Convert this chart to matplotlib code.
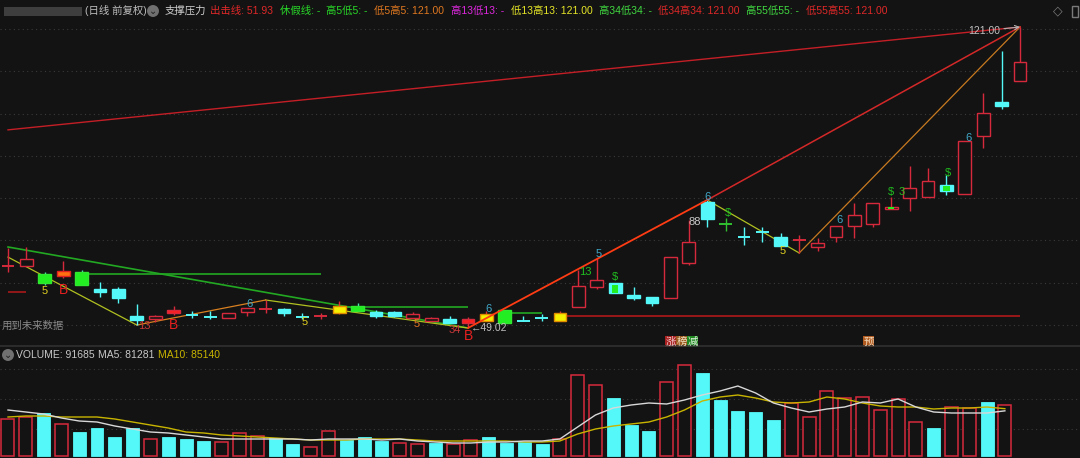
import numpy as np
import matplotlib
matplotlib.use('Agg')
import matplotlib.pyplot as plt
from matplotlib.patches import Rectangle

plt.rcParams['font.family'] = ['Liberation Sans', 'Noto Sans CJK SC', 'DejaVu Sans']

# ---- data ----
# daily candles: open, high, low, close and a colour code
opens = [63.84, 63.84, 61.93, 61.45, 62.41, 58.34, 58.34, 51.89, 51.17, 52.61,
         52.10, 51.65, 51.41, 52.85, 53.56, 53.56, 51.65, 51.85, 52.61, 54.28,
         52.85, 52.85, 51.41, 50.69, 51.17, 50.21, 50.69, 53.32, 50.69, 51.41,
         50.69, 54.04, 58.82, 59.78, 56.91, 56.43, 56.19, 64.56, 79.15, 73.89,
         70.78, 71.97, 70.78, 70.02, 68.39, 70.78, 73.41, 73.89, 77.48, 80.11,
         80.35, 83.22, 81.06, 94.93, 103.06, 108.09]
highs = [68.15, 68.39, 62.41, 65.04, 62.89, 60.02, 58.82, 54.76, 52.13, 54.28,
         53.08, 53.08, 52.61, 53.80, 55.71, 53.80, 52.61, 52.61, 55.47, 54.99,
         53.32, 53.08, 52.85, 51.65, 51.89, 51.65, 53.08, 53.32, 51.89, 52.37,
         53.08, 62.89, 65.76, 59.78, 58.82, 56.43, 65.99, 74.85, 79.63, 75.32,
         73.17, 73.17, 71.73, 71.26, 70.54, 73.41, 78.91, 78.91, 80.35, 87.76,
         87.28, 85.61, 93.74, 105.22, 115.26, 121.00]
lows = [62.41, 63.84, 59.30, 60.97, 59.30, 56.43, 54.99, 49.73, 50.45, 52.13,
        51.41, 51.17, 51.41, 51.89, 52.61, 51.89, 51.17, 51.17, 52.37, 53.08,
        51.41, 51.65, 51.41, 50.69, 50.21, 49.02, 50.69, 50.21, 50.65, 50.69,
        50.69, 54.04, 58.34, 57.39, 55.71, 54.28, 56.19, 64.08, 73.17, 72.20,
        68.87, 69.58, 68.63, 66.96, 67.43, 69.58, 70.54, 73.17, 77.48, 77.00,
        80.35, 80.82, 81.06, 92.06, 101.39, 108.09]
closes = [63.90, 65.52, 59.78, 62.65, 59.30, 57.63, 56.19, 50.93, 51.89, 53.32,
          52.00, 51.60, 52.61, 53.80, 53.62, 52.61, 51.60, 51.89, 54.28, 53.08,
          51.89, 51.89, 52.37, 51.41, 50.21, 51.17, 52.37, 50.21, 50.65, 51.35,
          52.61, 59.06, 60.50, 57.39, 56.19, 54.99, 65.99, 69.58, 75.08, 73.85,
          70.74, 71.93, 68.63, 70.06, 69.35, 73.41, 76.04, 78.91, 77.96, 82.50,
          84.17, 81.78, 93.74, 100.43, 102.11, 112.63]
kinds = ['u', 'u', 'g', 'o', 'g', 'd', 'd', 'd', 'u', 'r',
         'd', 'd', 'u', 'u', 'u', 'd', 'd', 'u', 'y', 'g',
         'd', 'd', 'u', 'u', 'd', 'r', 'y', 'g', 'd', 'd',
         'y', 'u', 'u', 'dg', 'd', 'd', 'u', 'u', 'd', 'x',
         'd', 'd', 'd', 'u', 'u', 'u', 'u', 'u', 'ug', 'u',
         'u', 'dg', 'u', 'u', 'd', 'u']

# indicator lines (bar index, price)
top_line = ([0, 55], [96.4, 121.0])
rise_1 = ([25, 38], [49.02, 79.63])
rise_2 = ([38, 55], [79.63, 121.0])
green_fall = ([0, 25], [68.39, 49.02])
zig_a = ([0, 7], [65.97, 49.73])
zig_b = ([7, 14], [49.73, 55.71])
zig_c = ([14, 25], [55.71, 49.02])
zig_d = ([38, 43], [79.63, 66.96])
zig_e = ([43, 55], [66.96, 121.0])
green_flat = [(4, 17, 61.93), (18, 25, 54.04), (27, 29, 52.61)]
attack_line = (30, 55, 51.93)
red_dash = (0, 1, 57.63)

# marker labels: bar index, price, text, colour
labels = [
    (2.0, 57.87, '5', '#e0d020'), (3.0, 58.1, 'B', '#e82020'),
    (7.4, 49.5, '13', '#c83838'), (9.0, 49.7, 'B', '#e82020'),
    (13.1, 54.8, '6', '#40a8c8'), (16.1, 50.45, '5', '#e0d020'),
    (22.2, 49.97, '5', '#e07020'), (24.3, 48.6, '34', '#c83838'),
    (25.0, 47.2, 'B', '#e82020'), (26.1, 53.6, '6', '#40a8c8'),
    (31.4, 62.4, '13', '#20c020'), (32.1, 66.7, '5', '#40a8c8'),
    (33.0, 61.2, '$', '#20c020'), (37.3, 74.4, '88', '#c8c8c8'),
    (38.0, 80.4, '6', '#40a8c8'), (39.1, 76.5, '$', '#20c020'),
    (42.1, 67.4, '5', '#e0d020'), (45.2, 74.85, '6', '#40a8c8'),
    (48.0, 81.5, '$', '#20c020'), (48.55, 81.5, '3', '#20c020'),
    (51.1, 86.1, '$', '#20c020'), (52.2, 94.5, '6', '#40a8c8'),
]

# volume panel
volumes = [66600, 70200, 77400, 57600, 43200, 50400, 34200, 50400, 30600, 34200,
           30600, 27000, 25200, 41400, 36000, 32400, 21600, 16200, 45000, 28800,
           34200, 27000, 23400, 21600, 23400, 21600, 28800, 34200, 23400, 25200,
           21600, 30600, 145800, 127800, 104400, 55800, 45000, 133200, 163800, 149400,
           100800, 81000, 79200, 64800, 95400, 70200, 117000, 104400, 106200, 82800,
           102600, 61200, 50400, 88200, 86400, 97200, 91685]
vol_dir = "RRCRCCCCRCCCRRRCCRRCCCRRCRRCCCCRRRCCCRRCCCCCRRRRRRRRCRRCR"
ma5 = [82800, 79200, 75600, 68400, 63000, 61200, 54000, 48600, 43200, 41400,
       37800, 34200, 30600, 30600, 30600, 30600, 30600, 28800, 30600, 30600,
       30600, 28800, 30600, 27000, 25200, 23400, 23400, 25200, 25200, 27000,
       27000, 30600, 52200, 73800, 86400, 91800, 95400, 93600, 100800, 109800,
       117000, 126000, 113400, 95400, 86400, 79200, 84600, 88200, 97200, 95400,
       102600, 88200, 79200, 77400, 77400, 77400, 81281]
ma10 = [70200, 72000, 72000, 70200, 70200, 70200, 66600, 61200, 55800, 50400,
        43200, 41400, 37800, 36000, 34200, 32400, 30600, 28800, 28800, 28800,
        30600, 30600, 30600, 28800, 27000, 27000, 27000, 27000, 27000, 25200,
        25200, 27000, 39600, 48600, 54000, 57600, 61200, 70200, 82800, 99000,
        106200, 109800, 104400, 97200, 95400, 97200, 106200, 102600, 95400, 90000,
        88200, 88200, 84600, 86400, 86400, 88200, 85140]

header_left = [(85, '(日线 前复权)', '#bdbdbd'), (165, '支撑压力', '#d0d0d0')]
header_values = [
    ('出击线: 51.93', '#e02828'),
    ('休假线: -', '#28d828'),
    ('高5低5: -', '#28d828'),
    ('低5高5: 121.00', '#e07820'),
    ('高13低13: -', '#e028e0'),
    ('低13高13: 121.00', '#e6e628'),
    ('高34低34: -', '#40d840'),
    ('低34高34: 121.00', '#e02828'),
    ('高55低55: -', '#40d840'),
    ('低55高55: 121.00', '#e02828'),
]

BG = '#131313'
UP = '#d62a3c'
DOWN = '#55f8f8'
LIME = '#22ee22'
GRID = '#3a3a3a'
styles = {
    'u': (UP, BG, UP),
    'r': (UP, '#ff2020', UP),
    'd': (DOWN, DOWN, DOWN),
    'g': ('#30e830', LIME, '#50e0b0'),
    'y': ('#e08a00', '#f4f000', UP),
    'o': ('#e02020', '#ff7010', UP),
    'x': ('#30c030', '#30c030', '#30c030'),
    'dg': (DOWN, DOWN, DOWN),
    'ug': (UP, BG, UP),
}

W, H = 1080, 458
fig = plt.figure(figsize=(10.8, 4.58), dpi=100, facecolor=BG)


def fx(x):
    return x / W


def fy(y):
    return 1 - y / H


# ---- main price panel ----
ax = fig.add_axes([0, fy(340), 1, 320 / H])
ax.set_facecolor(BG)
ax.set_xlim(-0.435, 58.26)
ax.set_ylim(46.15, 122.67)
ax.axis('off')

for g in np.linspace(49.74, 120.52, 8):
    ax.axhline(g, color=GRID, lw=0.8, ls=(0, (1, 3)), zorder=0)

ax.plot(*top_line, color='#c41e26', lw=1.0, zorder=1)
ax.plot(*green_fall, color='#22a822', lw=1.2, zorder=1)
for x0, x1, p in green_flat:
    ax.hlines(p, x0, x1, color='#22a822', lw=1.2, zorder=1)
ax.hlines(attack_line[2], attack_line[0], attack_line[1], color='#b01818', lw=1.2, zorder=1)
ax.hlines(red_dash[2], red_dash[0], red_dash[1], color='#a81818', lw=1.2, zorder=1)
for seg in (zig_a, zig_c, zig_d):
    ax.plot(*seg, color='#b0c020', lw=0.9, zorder=1)
ax.plot(*zig_b, color='#d88020', lw=0.9, zorder=1)
ax.plot(*zig_e, color='#c87a20', lw=0.9, zorder=1)
ax.plot(*rise_1, color='#ff3c14', lw=1.3, zorder=4)
ax.plot(*rise_2, color='#d42828', lw=1.1, zorder=4)

bw = 0.70
for i in range(len(opens)):
    o, h, l, c, k = opens[i], highs[i], lows[i], closes[i], kinds[i]
    edge, face, wick = styles[k]
    lo, hi = min(o, c), max(o, c)
    if hi - lo < 0.15:
        ax.vlines(i, l, h, color=wick, lw=1.0, zorder=2)
        ax.hlines((o + c) / 2, i - bw / 2, i + bw / 2, color=edge, lw=1.4, zorder=3)
        continue
    if face == BG:
        ax.vlines(i, hi, h, color=wick, lw=1.0, zorder=2)
        ax.vlines(i, l, lo, color=wick, lw=1.0, zorder=2)
    else:
        ax.vlines(i, l, h, color=wick, lw=1.0, zorder=2)
    ax.add_patch(Rectangle((i - bw / 2, lo), bw, hi - lo, facecolor=face,
                           edgecolor=edge, lw=1.0, zorder=3))
    if k in ('dg', 'ug'):
        ax.add_patch(Rectangle((i - bw / 4, lo), bw / 2, (hi - lo) * 0.8,
                               facecolor=LIME, edgecolor='none', zorder=3.5))

for xi, p, s, col in labels:
    fs = 10 if s == 'B' else 8
    ax.text(xi, p, s, color=col, fontsize=fs, ha='center', va='center', zorder=5)

ax.annotate('121.00', xy=(55, 121.0), xytext=(53.9, 120.1), color='#c0c0c0',
            fontsize=7.5, ha='right', va='center',
            arrowprops=dict(arrowstyle='->', color='#b0b0b0', lw=0.8,
                            shrinkA=1, shrinkB=0), zorder=6)
ax.text(25.15, 49.02, '←49.02', color='#c0c0c0', fontsize=7.5, ha='left',
        va='center', zorder=6)
ax.text(-0.35, 49.5, '用到未来数据', color='#8a8a8a', fontsize=7.5, ha='left',
        va='center', zorder=6)

# ---- title bar ----
fig.patches.append(Rectangle((fx(4), fy(16)), fx(78), 9 / H, transform=fig.transFigure,
                             facecolor='#4a4a4a', edgecolor='none', alpha=0.8))
for x, s, col in header_left:
    fig.text(fx(x), fy(11), s, color=col, fontsize=7.5, ha='left', va='center')

renderer = fig.canvas.get_renderer()
xpos = 210
for s, col in header_values:
    t = fig.text(fx(xpos), fy(11), s, color=col, fontsize=7.5, ha='left', va='center')
    xpos += t.get_window_extent(renderer=renderer).width + 6.5

fig.text(fx(153), fy(11), '⌄', color='#202020', fontsize=7, ha='center', va='center',
         bbox=dict(boxstyle='circle,pad=0.1', facecolor='#707070', edgecolor='none'))
fig.text(fx(1058), fy(11), '◇', color='#7a7a7a', fontsize=9, ha='center', va='center',
         family=['DejaVu Sans'])
fig.patches.append(Rectangle((fx(1072), fy(17)), fx(6), 11 / H, transform=fig.transFigure,
                             facecolor='none', edgecolor='#7a7a7a', lw=1))

# ---- panel separator and signal tags ----
fig.lines.append(plt.Line2D([0, 1], [fy(346), fy(346)], transform=fig.transFigure,
                            color='#303030', lw=1.2))
tags = [(665, '涨', '#a82020', '#f0c8c8'), (676, '榜', '#9a5a20', '#f0e0c0'),
        (687, '减', '#208a20', '#e0f0e0'), (863, '预', '#b05a20', '#f0d8b8')]
for x, s, bgc, fgc in tags:
    fig.patches.append(Rectangle((fx(x), fy(347)), fx(11), 11 / H,
                                 transform=fig.transFigure, facecolor=bgc, edgecolor='none'))
    fig.text(fx(x + 5.5), fy(341.5), s, color=fgc, fontsize=7.5, ha='center', va='center')

# ---- volume panel ----
axv = fig.add_axes([0, 0, 1, 111 / H])
axv.set_facecolor(BG)
axv.set_xlim(-0.449, 60.22)
axv.set_ylim(-3600, 196200)
axv.axis('off')
for g in (48600, 102600, 156600):
    axv.axhline(g, color=GRID, lw=0.8, ls=(0, (1, 3)), zorder=0)

xv = np.arange(len(volumes))
for i, v in enumerate(volumes):
    if vol_dir[i] == 'R':
        axv.bar(i, v, width=0.73, facecolor=BG, edgecolor=UP, lw=1.1, zorder=2)
    else:
        axv.bar(i, v, width=0.73, facecolor=DOWN, edgecolor=DOWN, lw=0.6, zorder=2)
axv.plot(xv, ma10, color='#c8b400', lw=1.0, zorder=3)
axv.plot(xv, ma5, color='#d8d8d8', lw=1.0, zorder=4)

fig.text(fx(8), fy(355), '⌄', color='#202020', fontsize=7, ha='center', va='center',
         bbox=dict(boxstyle='circle,pad=0.1', facecolor='#707070', edgecolor='none'))
fig.text(fx(16), fy(355), 'VOLUME: 91685', color='#c8c8c8', fontsize=7.5, ha='left', va='center')
fig.text(fx(98), fy(355), 'MA5: 81281', color='#c8c8c8', fontsize=7.5, ha='left', va='center')
fig.text(fx(158), fy(355), 'MA10: 85140', color='#c8b400', fontsize=7.5, ha='left', va='center')

fig.savefig('out.png', dpi=100, facecolor=BG)
